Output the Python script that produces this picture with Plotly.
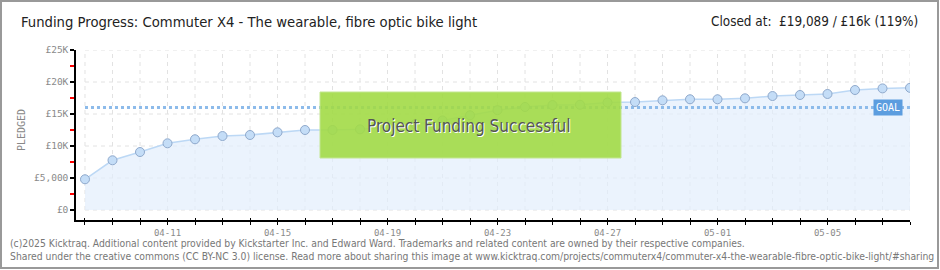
import plotly.graph_objects as go
import pandas as pd

# ---- data ----
dates = ["2015-04-08", "2015-04-09", "2015-04-10", "2015-04-11", "2015-04-12",
         "2015-04-13", "2015-04-14", "2015-04-15", "2015-04-16", "2015-04-17",
         "2015-04-18", "2015-04-19", "2015-04-20", "2015-04-21", "2015-04-22",
         "2015-04-23", "2015-04-24", "2015-04-25", "2015-04-26", "2015-04-27",
         "2015-04-28", "2015-04-29", "2015-04-30", "2015-05-01", "2015-05-02",
         "2015-05-03", "2015-05-04", "2015-05-05", "2015-05-06", "2015-05-07",
         "2015-05-08"]
pledged = [4800, 7770, 9060, 10420, 11050, 11560, 11720, 12140, 12500, 12500,
           12600, 12900, 13400, 14000, 14800, 15600, 16100, 16400, 16450, 16800,
           16870, 17140, 17300, 17300, 17450, 17810, 17970, 18130, 18750, 19000,
           19089]
goal = 16000
x_label_dates = ["2015-04-11", "2015-04-15", "2015-04-19", "2015-04-23",
                 "2015-04-27", "2015-05-01", "2015-05-05"]
y_tick_vals = [0, 5000, 10000, 15000, 20000, 25000]
y_tick_text = ["£0", "£5,000", "£10K", "£15K", "£20K", "£25K"]
y_minor_vals = [2500, 7500, 12500, 17500, 22500]

title_text = "Funding Progress: Commuter X4 - The wearable, fibre optic bike light"
closed_text = "Closed at:  £19,089 / £16k (119%)"
footer1 = ("(c)2025 Kicktraq. Additional content provided by Kickstarter Inc. and Edward Ward. "
           "Trademarks and related content are owned by their respective companies.")
footer2 = ("Shared under the creative commons (CC BY-NC 3.0) license. Read more about sharing this image at "
           "www.kicktraq.com/projects/commuterx4/commuter-x4-the-wearable-fibre-optic-bike-light/#sharing")

# ---- layout geometry (pixels) ----
W, H = 940, 270
L, R, T, B = 76, 30, 50, 50
PW, PH = W - L - R, H - T - B


def px(x):
    return (x - L) / PW


def py(y):
    return (H - B - y) / PH


d = pd.to_datetime(dates)
x_start = d[0] - pd.Timedelta(hours=7.85)
x_end = d[-1]
tick_text = [dd.strftime("%m-%d") if dd.strftime("%Y-%m-%d") in x_label_dates else "" for dd in d]

MONO = "DejaVu Sans Mono"
XFONT = dict(family=MONO, size=9, color="#8a8a8a")
YFONT = dict(family=MONO, size=9.5, color="#8a8a8a")
HEAD = "DejaVu Sans Condensed, Liberation Sans Narrow, Roboto"

fig = go.Figure()

fig.add_trace(go.Scatter(
    x=d, y=pledged, mode="lines", fill="tozeroy",
    fillcolor="rgba(226,238,252,0.7)",
    line=dict(color="#bcd8f5", width=1.5), hoverinfo="skip", showlegend=False))
fig.add_trace(go.Scatter(
    x=[d[0], d[-1]], y=[goal, goal], mode="lines",
    line=dict(color="#8dbbea", width=3, dash="dot"), showlegend=False))
fig.add_trace(go.Scatter(
    x=d, y=pledged, mode="markers",
    marker=dict(size=9, color="#c4ddf7", line=dict(color="#8fa9cc", width=1)),
    showlegend=False))
fig.add_trace(go.Scatter(x=[d[0]], y=[None], xaxis="x2", showlegend=False))

shapes = []
for dd in d:
    shapes.append(dict(type="line", xref="x", yref="y", x0=dd, x1=dd, y0=0, y1=25000,
                       line=dict(color="#e2e2e2", width=1, dash="4px,4px"), layer="below"))
for v in y_tick_vals:
    shapes.append(dict(type="line", xref="x", yref="y", x0=d[0], x1=d[-1], y0=v, y1=v,
                       line=dict(color="#e2e2e2", width=1, dash="4px,4px"), layer="below"))
shapes.append(dict(type="rect", xref="paper", yref="paper",
                   x0=px(320), x1=px(621), y0=py(158), y1=py(92),
                   fillcolor="rgba(162,218,70,0.9)", line=dict(color="#c2e690", width=1),
                   layer="above"))
shapes.append(dict(type="rect", xref="paper", yref="paper",
                   x0=px(1), x1=px(938), y0=py(268), y1=py(1),
                   line=dict(color="#999999", width=2), layer="above"))

annotations = [
    dict(text=title_text, xref="paper", yref="paper", x=px(19), y=py(22),
         xanchor="left", yanchor="middle", showarrow=False,
         font=dict(family=HEAD, size=14.7, color="#222222")),
    dict(text=closed_text, xref="paper", yref="paper", x=px(920), y=py(22),
         xanchor="right", yanchor="middle", showarrow=False,
         font=dict(family=HEAD, size=13.4, color="#222222")),
    dict(text=footer1, xref="paper", yref="paper", x=px(8), y=py(243),
         xanchor="left", yanchor="middle", showarrow=False,
         font=dict(family="DejaVu Sans Condensed, DejaVu Sans", size=10.3, color="#777777")),
    dict(text=footer2, xref="paper", yref="paper", x=px(8), y=py(256),
         xanchor="left", yanchor="middle", showarrow=False,
         font=dict(family="DejaVu Sans Condensed, DejaVu Sans", size=10.3, color="#777777")),
    dict(text="PLEDGED", xref="paper", yref="paper", x=px(21), y=py(130),
         xanchor="center", yanchor="middle", showarrow=False, textangle=-90,
         font=dict(family=MONO, size=10, color="#888888")),
    dict(text="Project Funding Successful", xref="paper", yref="paper",
         x=px(469), y=py(126), xanchor="center", yanchor="middle", showarrow=False,
         font=dict(family=HEAD, size=17, color="#555555", shadow="1px 1px 0px #ffffff")),
    dict(text="GOAL", xref="paper", yref="y", x=px(888), y=goal,
         xanchor="center", yanchor="middle", showarrow=False,
         bgcolor="#5c9ddf", borderpad=2,
         font=dict(family=MONO, size=10, color="#ffffff")),
]

fig.update_layout(
    width=W, height=H,
    margin=dict(l=L, r=R, t=T, b=B),
    paper_bgcolor="#ffffff", plot_bgcolor="#ffffff",
    showlegend=False,
    shapes=shapes, annotations=annotations,
    xaxis=dict(range=[x_start, x_end], tickmode="array", tickvals=d, ticktext=tick_text,
               showgrid=False, zeroline=False, showline=True, linecolor="#000000", linewidth=1.5,
               ticks="outside", ticklen=3, tickcolor="#000000", tickwidth=1,
               tickfont=XFONT, fixedrange=True),
    xaxis2=dict(range=[x_start, x_end], overlaying="x", side="bottom", tickmode="array",
                tickvals=d, ticks="inside", ticklen=2, tickcolor="#000000", tickwidth=1,
                showticklabels=False, showgrid=False, zeroline=False, showline=False),
    yaxis=dict(range=[-1562.5, 25000], tickmode="array", tickvals=y_tick_vals, ticktext=y_tick_text,
               showgrid=False, zeroline=False, showline=True, linecolor="#000000", linewidth=1.5,
               ticks="outside", ticklen=4, tickcolor="#000000", tickwidth=1.5,
               tickfont=YFONT,
               minor=dict(tickvals=y_minor_vals, ticks="outside", ticklen=4, tickcolor="#ff0000",
                          tickwidth=1.5, showgrid=False)),
)

fig.write_html("out.html")
